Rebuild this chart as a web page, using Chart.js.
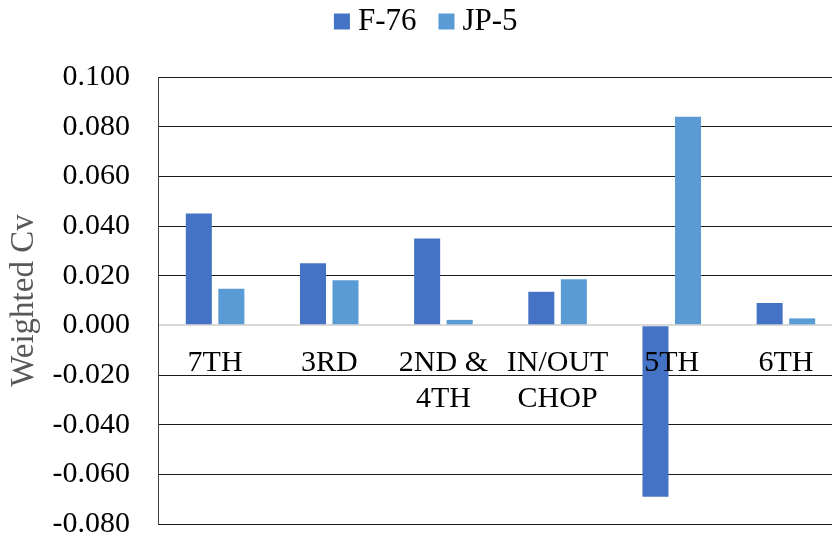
<!DOCTYPE html>
<html>
<head>
<meta charset="utf-8">
<script src="https://cdn.jsdelivr.net/npm/chart.js@4"></script>
<style>
html,body{margin:0;padding:0;background:#fff;overflow:hidden;}
#wrap{width:832px;height:537px;overflow:hidden;}
canvas{display:block;}
</style>
</head>
<body>
<div id="wrap"><canvas id="c" width="843" height="537"></canvas></div>
<script>
const categories = ['7TH', '3RD', ['2ND &', '4TH'], ['IN/OUT', 'CHOP'], '5TH', '6TH'];
const seriesNames = ['F-76', 'JP-5'];
const f76 = [0.045, 0.025, 0.035, 0.0135, -0.069, 0.009];
const jp5 = [0.0147, 0.0182, 0.0022, 0.0186, 0.084, 0.0028];
const yMin = -0.08, yMax = 0.1, yStep = 0.02;
const yTitle = 'Weighted Cv';

const FONT = "'Liberation Serif', 'Times New Roman', serif";
const isZero = (ctx) => ctx.tick && Math.abs(ctx.tick.value) < 1e-9;

new Chart(document.getElementById('c'), {
  type: 'bar',
  data: {
    labels: categories,
    datasets: [
      { label: seriesNames[0], data: f76, backgroundColor: '#4472C4', categoryPercentage: 0.57, barPercentage: 0.8 },
      { label: seriesNames[1], data: jp5, backgroundColor: '#5B9BD5', categoryPercentage: 0.57, barPercentage: 0.8 }
    ]
  },
  options: {
    responsive: false,
    animation: false,
    layout: { padding: { top: -23.5, bottom: 13, left: 16, right: 0 } },
    plugins: {
      legend: {
        position: 'top',
        labels: {
          font: { family: FONT, size: 31 },
          color: '#000',
          boxWidth: 1,
          boxHeight: 1,
          padding: 29.5,
          generateLabels: (chart) => Chart.defaults.plugins.legend.labels.generateLabels(chart).map(it => {
            it.strokeStyle = it.fillStyle;
            it.lineWidth = 15;
            it.lineJoin = 'miter';
            return it;
          })
        }
      },
      subtitle: {
        display: true,
        text: ' ',
        color: 'rgba(0,0,0,0)',
        weight: 100,
        font: { size: 10, lineHeight: 1 },
        padding: { top: 0, bottom: 20 }
      },
      tooltip: { enabled: false }
    },
    scales: {
      x: {
        type: 'category',
        position: { y: 0 },
        grid: { display: false, drawTicks: false },
        border: { display: false },
        ticks: {
          z: 1,
          font: { family: FONT, size: 30, lineHeight: 1.2 },
          color: '#000',
          padding: 20,
          maxRotation: 0,
          autoSkip: false
        }
      },
      y: {
        min: yMin,
        max: yMax,
        grid: {
          drawTicks: true,
          tickLength: 28,
          tickColor: 'rgba(0,0,0,0)',
          color: (ctx) => isZero(ctx) ? '#d9d9d9' : '#1a1a1a',
          lineWidth: (ctx) => isZero(ctx) ? 2 : 1
        },
        border: { display: true, color: '#404040', width: 1 },
        ticks: {
          stepSize: yStep,
          font: { family: FONT, size: 30, lineHeight: 0.8 },
          color: '#000',
          padding: 0,
          callback: (v) => Number(v).toFixed(3)
        },
        title: {
          display: true,
          text: yTitle,
          color: '#595959',
          font: { family: FONT, size: 33, lineHeight: 0.5 },
          padding: { top: 0, bottom: 0 }
        },
        afterFit: (scale) => { scale.width = 142; }
      }
    }
  }
});
</script>
</body>
</html>
